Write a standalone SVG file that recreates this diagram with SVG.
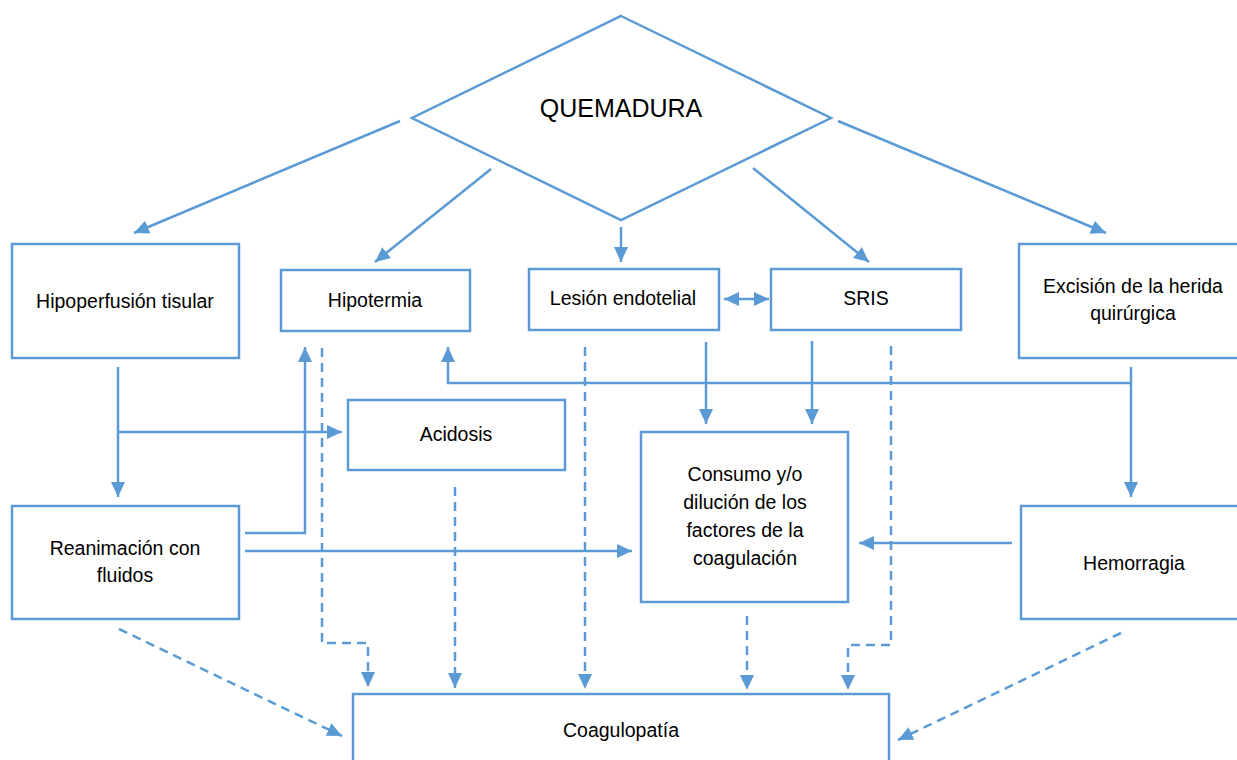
<svg xmlns="http://www.w3.org/2000/svg" width="1237" height="760" viewBox="0 0 1237 760">
<style>
.n{fill:#fff;stroke:#5B9BD5;stroke-width:2.5}
.t{font-family:"Liberation Sans",Arial,sans-serif;font-size:19.5px;fill:#000;text-anchor:middle}
.c{fill:none;stroke:#5B9BD5;stroke-width:2.5}
.s{marker-end:url(#ah)}
.d{stroke-dasharray:9 6}
</style>
<defs>
<marker id="ah" markerUnits="userSpaceOnUse" markerWidth="16" markerHeight="14" refX="15" refY="7" orient="auto-start-reverse">
<path d="M0,0 L15,7 L0,14 Z" fill="#5B9BD5"/>
</marker>
</defs>
<rect width="1237" height="760" fill="#fff"/>
<g id="quemadura">
<polygon class="n" points="621,16 831,118 621,220 412,118"/>
<text class="t" x="621" y="117" style="font-size:25px">QUEMADURA</text>
</g>
<g id="hipoperfusion">
<rect class="n" x="12" y="244" width="227" height="114"/>
<text class="t" x="125" y="308">Hipoperfusión tisular</text>
</g>
<g id="hipotermia">
<rect class="n" x="281" y="270" width="189" height="61"/>
<text class="t" x="375" y="307">Hipotermia</text>
</g>
<g id="lesion">
<rect class="n" x="529" y="269" width="190" height="61"/>
<text class="t" x="623" y="305">Lesión endotelial</text>
</g>
<g id="sris">
<rect class="n" x="771" y="269" width="190" height="61"/>
<text class="t" x="866" y="305">SRIS</text>
</g>
<g id="excision">
<rect class="n" x="1019" y="244" width="230" height="114"/>
<text class="t" x="1133" y="293">Excisión de la herida</text>
<text class="t" x="1133" y="320">quirúrgica</text>
</g>
<g id="acidosis">
<rect class="n" x="348" y="400" width="217" height="70"/>
<text class="t" x="456" y="441">Acidosis</text>
</g>
<g id="consumo">
<rect class="n" x="641" y="432" width="207" height="170"/>
<text class="t" x="745" y="481">Consumo y/o</text>
<text class="t" x="745" y="509">dilución de los</text>
<text class="t" x="745" y="537">factores de la</text>
<text class="t" x="745" y="565">coagulación</text>
</g>
<g id="reanimacion">
<rect class="n" x="12" y="506" width="227" height="113"/>
<text class="t" x="125" y="555">Reanimación con</text>
<text class="t" x="125" y="582">fluidos</text>
</g>
<g id="hemorragia">
<rect class="n" x="1021" y="506" width="230" height="113"/>
<text class="t" x="1134" y="570">Hemorragia</text>
</g>
<g id="coagulopatia">
<rect class="n" x="353" y="694" width="536" height="90"/>
<text class="t" x="621" y="737">Coagulopatía</text>
</g>
<g id="connectors">
<line class="c s" x1="400" y1="121" x2="134" y2="233"/>
<line class="c s" x1="491" y1="169" x2="375" y2="262"/>
<line class="c s" x1="621" y1="227" x2="621" y2="262"/>
<line class="c s" x1="753" y1="168" x2="869" y2="262"/>
<line class="c s" x1="838" y1="121" x2="1106" y2="233"/>
<line class="c" x1="724" y1="299" x2="769" y2="299" marker-start="url(#ah)" marker-end="url(#ah)"/>
<line class="c s" x1="118" y1="367" x2="118" y2="497"/>
<polyline class="c s" points="118,432 342,432"/>
<polyline class="c s" points="245,533 305,533 305,347"/>
<line class="c s" x1="245" y1="551" x2="632" y2="551"/>
<line class="c s" x1="1131" y1="367" x2="1131" y2="497"/>
<polyline class="c s" points="1131,383 448,383 448,347"/>
<line class="c s" x1="706" y1="342" x2="706" y2="424"/>
<line class="c s" x1="812" y1="341" x2="812" y2="424"/>
<line class="c s" x1="1012" y1="543" x2="859" y2="543"/>
<polyline class="c d s" points="322,348 322,643 368,643 368,687"/>
<line class="c d s" x1="455" y1="487" x2="455" y2="688"/>
<line class="c d s" x1="585" y1="347" x2="585" y2="689"/>
<line class="c d s" x1="747" y1="616" x2="747" y2="690"/>
<polyline class="c d s" points="891,346 891,645 848,645 848,690"/>
<line class="c d s" x1="119" y1="629" x2="342" y2="736"/>
<line class="c d s" x1="1121" y1="633" x2="898" y2="740"/>
</g>
</svg>
